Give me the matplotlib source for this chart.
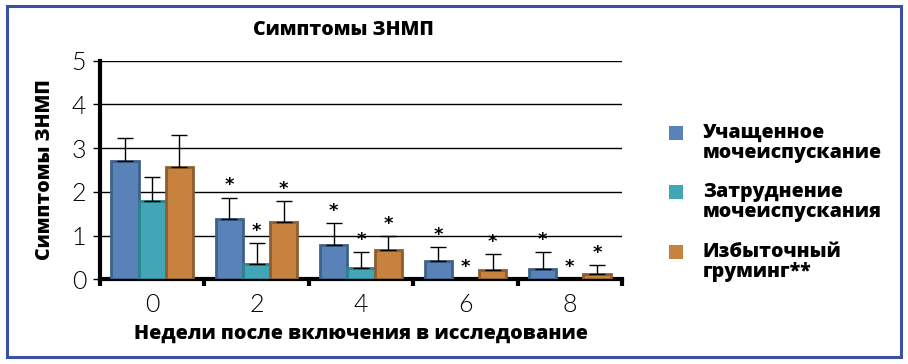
import matplotlib
matplotlib.use("Agg")
import matplotlib.pyplot as plt
import numpy as np
from matplotlib.patches import Rectangle

weeks = ["0", "2", "4", "6", "8"]
series_names = ["Учащенное\nмочеиспускание", "Затруднение\nмочеиспускания", "Избыточный\nгруминг**"]
frequent = [2.71, 1.39, 0.78, 0.41, 0.24]
frequent_err = [0.53, 0.48, 0.50, 0.32, 0.38]
difficult = [1.80, 0.34, 0.26, 0.0, 0.0]
difficult_err = [0.53, 0.48, 0.36, 0.0, 0.0]
grooming = [2.58, 1.30, 0.67, 0.21, 0.12]
grooming_err = [0.71, 0.48, 0.31, 0.36, 0.20]
stars = [[False, True, True, True, True],
         [False, True, True, True, True],
         [False, True, True, True, True]]

fills = ["#5882B8", "#42A6B7", "#C8823F"]
edges = ["#3E6188", "#2C8290", "#8D5E2E"]

plt.rcParams['font.family'] = ['Open Sans', 'DejaVu Sans']
BOLD = 800

fig = plt.figure(figsize=(9.08, 3.64), dpi=100)
ax = fig.add_axes([100/908, 1-279.3/364, 522/908, (279.3-60.7)/364])

x = np.arange(len(weeks))
w = 0.26
data = [(frequent, frequent_err), (difficult, difficult_err), (grooming, grooming_err)]
for i, (vals, errs) in enumerate(data):
    xs = x + (i-1)*w
    lws = [2.0 if v > 0 else 0 for v in vals]
    ax.bar(xs, vals, width=w, color=fills[i], edgecolor=edges[i], linewidth=lws, zorder=3,
           label=series_names[i])
    for xi, v, e, s in zip(xs, vals, errs, stars[i]):
        if e > 0:
            ax.errorbar([xi], [v], yerr=[[0], [e]], fmt='none', ecolor='black',
                        elinewidth=1.0, capsize=6, capthick=1.0, zorder=4)
        if s:
            ax.annotate("*", (xi, v+e), xytext=(0, 9), textcoords='offset points',
                        ha='center', va='center', fontsize=13, fontweight='bold',
                        family='DejaVu Sans', zorder=5)

tick_font = dict(family=['Lato', 'DejaVu Sans'], fontsize=18, fontweight=300, color='black')
ax.set_xlim(-0.5, 4.5)
ax.set_ylim(0, 5)
ax.set_yticks([0, 1, 2, 3, 4, 5])
ax.set_yticklabels(["0", "1", "2", "3", "4", "5"], **tick_font)
ax.set_xticks(x)
ax.set_xticklabels(weeks, **tick_font)
ax.tick_params(axis='x', length=0, pad=10)
ax.tick_params(axis='y', length=5, width=1.0, pad=5)
ax.set_xticks(np.arange(-0.5, 5.0, 1.0), minor=True)
ax.tick_params(axis='x', which='minor', length=5, width=3, direction='out')
ax.grid(axis='y', color='black', linewidth=1.0, zorder=0)
ax.set_axisbelow(True)
for sp in ['top', 'right']:
    ax.spines[sp].set_visible(False)
ax.spines['left'].set_linewidth(3)
ax.spines['bottom'].set_linewidth(3)

ax.set_ylabel("Симптомы ЗНМП", fontsize=14, fontweight=BOLD, labelpad=12)
ax.set_xlabel("Недели после включения в исследование", fontsize=14.2, fontweight=BOLD, labelpad=5)
fig.text(343/908, 1-30/364, "Симптомы ЗНМП", ha='center', va='center', fontsize=14, fontweight=BOLD)

# legend
leg_y = [133, 192, 252]
for i in range(3):
    fig.patches.append(Rectangle((669/908, 1-(leg_y[i]+7)/364), 14/908, 14/364,
                                 transform=fig.transFigure, facecolor=fills[i], edgecolor='none'))
    fig.text(703/908, 1-(leg_y[i]-10)/364, series_names[i], ha='left', va='top',
             fontsize=14, fontweight=BOLD, linespacing=1.02)

# border
fig.patches.append(Rectangle((7/908, 1-357/364), 894/908, 351/364, transform=fig.transFigure,
                             facecolor='none', edgecolor='#3A50A2', linewidth=2.2))

fig.savefig("out.png", dpi=100)
